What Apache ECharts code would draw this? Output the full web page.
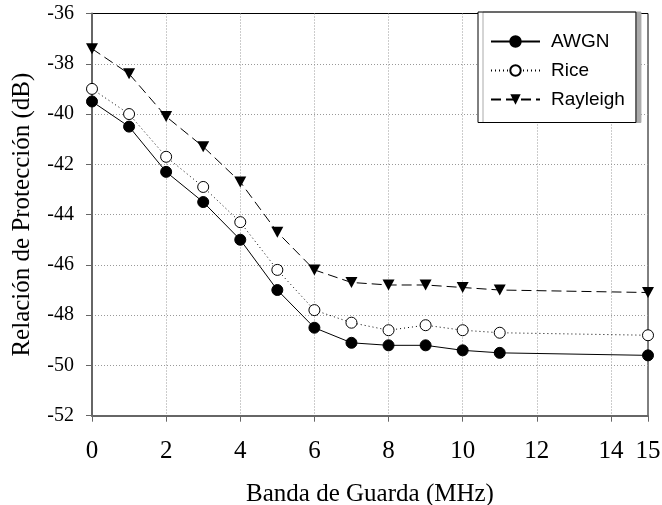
<!DOCTYPE html>
<html>
<head>
<meta charset="utf-8">
<script src="https://cdn.jsdelivr.net/npm/echarts@6/dist/echarts.min.js"></script>
<style>
  html, body { margin: 0; padding: 0; background: #fff; }
  #chart { width: 662px; height: 505px; }
</style>
</head>
<body>
<div id="chart"></div>
<script>
// Guard band (MHz) sampled in the simulations
const guardBand = [0, 1, 2, 3, 4, 5, 6, 7, 8, 9, 10, 11, 15];

// Protection ratio (dB) for each channel model
const awgn     = [-39.5, -40.5, -42.3, -43.5, -45.0, -47.0, -48.5, -49.1, -49.2, -49.2, -49.4, -49.5, -49.6];
const rice     = [-39.0, -40.0, -41.7, -42.9, -44.3, -46.2, -47.8, -48.3, -48.6, -48.4, -48.6, -48.7, -48.8];
const rayleigh = [-37.4, -38.4, -40.1, -41.3, -42.7, -44.7, -46.2, -46.7, -46.8, -46.8, -46.9, -47.0, -47.1];

const seriesNames = ['AWGN', 'Rice', 'Rayleigh'];
const xTitle = 'Banda de Guarda (MHz)';
const yTitle = 'Relación de Protección (dB)';

const pairs = ys => guardBand.map((x, i) => [x, ys[i]]);

const serif = 'Liberation Serif, Times New Roman, serif';
const axisGray = '#666';
const gridLine = { show: true, showMinLine: false, showMaxLine: false,
                   lineStyle: { color: '#999', width: 1, type: [1, 2] } };

const chart = echarts.init(document.getElementById('chart'), null, { renderer: 'canvas' });

chart.setOption({
  backgroundColor: '#fff',
  animation: false,
  grid: {
    left: 92, right: 14, top: 13.5, bottom: 89.3,
    outerBoundsMode: 'none', containLabel: false,
    show: true, borderColor: '#000', borderWidth: 1, backgroundColor: 'transparent'
  },
  legend: {
    left: 478, top: 12,
    orient: 'vertical',
    data: seriesNames,
    itemWidth: 49, itemHeight: 13, itemGap: 10,
    padding: [20, 11, 13.5, 12],
    backgroundColor: '#fff',
    borderColor: '#000', borderWidth: 1,
    shadowColor: '#aaa', shadowBlur: 0, shadowOffsetX: 5, shadowOffsetY: 0,
    textStyle: {
      fontFamily: 'Liberation Sans, Arial, sans-serif', fontSize: 19,
      color: '#000', padding: [0, 0, 0, 6]
    }
  },
  xAxis: {
    type: 'value', min: 0, max: 15, interval: 2,
    name: xTitle, nameLocation: 'middle', nameGap: 66,
    nameTextStyle: { fontFamily: serif, fontSize: 25, color: '#000' },
    axisLine: { show: true, onZero: false, lineStyle: { color: axisGray, width: 2 } },
    axisTick: { show: true, inside: false, length: 6, lineStyle: { color: axisGray, width: 1 } },
    axisLabel: { fontFamily: serif, fontSize: 25, color: '#000', margin: 23 },
    splitLine: gridLine
  },
  yAxis: {
    type: 'value', min: -52, max: -36, interval: 2,
    name: yTitle, nameLocation: 'middle', nameGap: 57, nameRotate: 90,
    nameTextStyle: { fontFamily: serif, fontSize: 25, color: '#000' },
    axisLine: { show: true, lineStyle: { color: axisGray, width: 2 } },
    axisTick: { show: true, inside: false, length: 6, lineStyle: { color: axisGray, width: 1 } },
    axisLabel: { fontFamily: serif, fontSize: 20, color: '#000', margin: 18 },
    splitLine: gridLine
  },
  series: [
    {
      name: seriesNames[0], type: 'line', data: pairs(awgn),
      symbol: 'circle', symbolSize: 11,
      lineStyle: { color: '#000', width: 1, type: 'solid' },
      itemStyle: { color: '#000', borderColor: '#000', borderWidth: 1 },
      z: 5
    },
    {
      name: seriesNames[1], type: 'line', data: pairs(rice),
      symbol: 'circle', symbolSize: 11,
      lineStyle: { color: '#000', width: 1, type: [1, 3] },
      itemStyle: { color: '#fff', borderColor: '#000', borderWidth: 1 },
      z: 5
    },
    {
      name: seriesNames[2], type: 'line', data: pairs(rayleigh),
      symbol: 'triangle', symbolRotate: 180, symbolSize: [12, 11],
      lineStyle: { color: '#000', width: 1, type: [10, 5] },
      itemStyle: { color: '#000', borderColor: '#000', borderWidth: 0 },
      z: 5
    }
  ]
});
</script>
</body>
</html>
